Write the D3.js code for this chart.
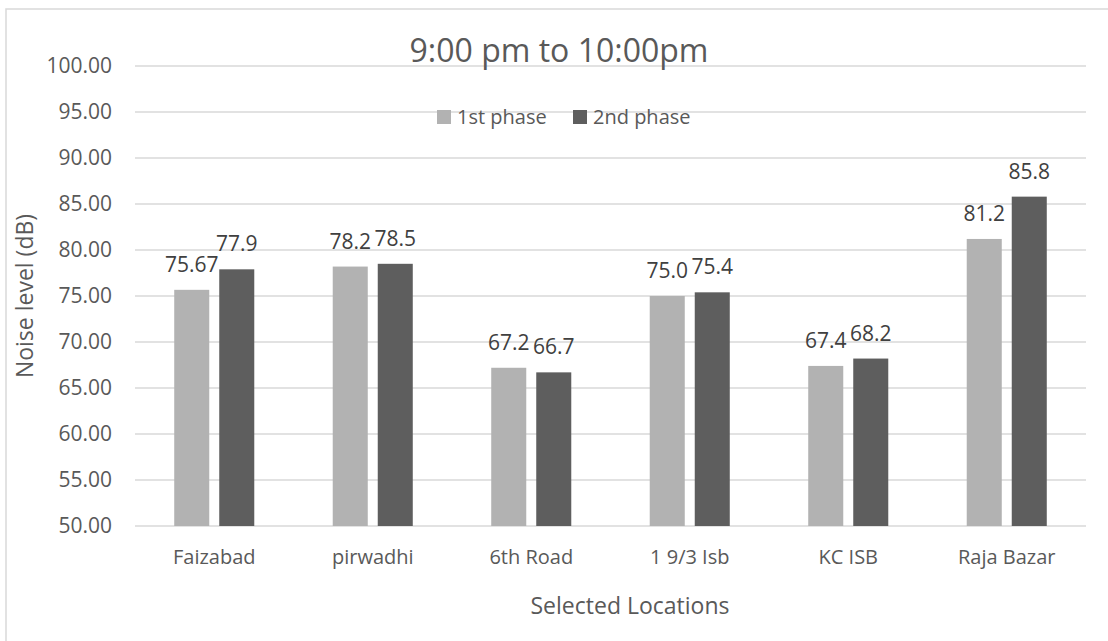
<!DOCTYPE html>
<html>
<head>
<meta charset="utf-8">
<script src="https://cdn.jsdelivr.net/npm/d3@7"></script>
<style>
  html, body { margin: 0; padding: 0; background: #fff; }
  svg { display: block; font-family: "Open Sans", sans-serif; }
</style>
</head>
<body>
<svg id="chart" width="1108" height="641"></svg>
<script>
const categories = ["Faizabad", "pirwadhi", "6th Road", "1 9/3 Isb", "KC ISB", "Raja Bazar"];
const seriesNames = ["1st phase", "2nd phase"];
const phase1 = [75.67, 78.2, 67.2, 75.0, 67.4, 81.2];
const phase2 = [77.9, 78.5, 66.7, 75.4, 68.2, 85.8];
const phase1Labels = ["75.67", "78.2", "67.2", "75.0", "67.4", "81.2"];
const phase2Labels = ["77.9", "78.5", "66.7", "75.4", "68.2", "85.8"];
const yTicks = [50, 55, 60, 65, 70, 75, 80, 85, 90, 95, 100];
const colors = ["#b2b2b2", "#5e5e5e"];

const svg = d3.select("#chart");
const plotLeft = 135, plotRight = 1086, plotTop = 66, plotBottom = 526;

// chart border
svg.append("rect").attr("x", 6).attr("y", 9).attr("width", 1200).attr("height", 800)
  .attr("fill", "none").attr("stroke", "#d9d9d9").attr("stroke-width", 1.5);

const x = d3.scaleBand().domain(categories).range([plotLeft, plotRight])
  .paddingInner(0.495).paddingOuter(0.2475);
const xs = d3.scaleBand().domain(seriesNames).range([0, x.bandwidth()]).paddingInner(0.222);
const y = d3.scaleLinear().domain([50, 100]).range([plotBottom, plotTop]);

// gridlines
svg.append("g").selectAll("line").data(yTicks).join("line")
  .attr("x1", plotLeft).attr("x2", plotRight)
  .attr("y1", d => y(d)).attr("y2", d => y(d))
  .attr("stroke", "#d9d9d9").attr("stroke-width", 1.3);

// y axis labels
const yAxis = d3.axisLeft(y).tickValues(yTicks).tickFormat(d3.format(".2f")).tickSize(0).tickPadding(23);
const ya = svg.append("g").attr("transform", `translate(${plotLeft},0)`).call(yAxis);
ya.select(".domain").remove();
ya.selectAll("text").attr("font-size", 21).attr("fill", "#595959").attr("font-family", "Open Sans");

// x axis labels
const xAxis = d3.axisBottom(x).tickSize(0).tickPadding(24);
const xa = svg.append("g").attr("transform", `translate(0,${plotBottom})`).call(xAxis);
xa.select(".domain").remove();
xa.selectAll("text").attr("font-size", 20).attr("fill", "#595959").attr("font-family", "Open Sans");

const data = seriesNames.map((s, si) => ({
  name: s,
  values: categories.map((c, i) => ({
    cat: c,
    v: si === 0 ? phase1[i] : phase2[i],
    label: si === 0 ? phase1Labels[i] : phase2Labels[i]
  }))
}));

const groups = svg.append("g").selectAll("g").data(data).join("g")
  .attr("fill", (d, i) => colors[i]);

groups.selectAll("rect").data(d => d.values.map(v => ({...v, s: d.name}))).join("rect")
  .attr("x", d => x(d.cat) + xs(d.s))
  .attr("width", xs.bandwidth())
  .attr("y", d => y(d.v))
  .attr("height", d => y(50) - y(d.v));

svg.append("g").selectAll("g").data(data).join("g")
  .selectAll("text").data(d => d.values.map(v => ({...v, s: d.name}))).join("text")
  .attr("x", d => x(d.cat) + xs(d.s) + xs.bandwidth() / 2)
  .attr("y", d => y(d.v) - 18)
  .attr("text-anchor", "middle")
  .attr("font-size", 21)
  .attr("fill", "#404040")
  .text(d => d.label);

// title
svg.append("text").attr("x", 559).attr("y", 62).attr("text-anchor", "middle")
  .attr("font-size", 32).attr("fill", "#595959").text("9:00 pm to 10:00pm");

// legend
const legendX = [437, 573];
const lg = svg.append("g").selectAll("g").data(seriesNames).join("g")
  .attr("transform", (d, i) => `translate(${legendX[i]},110)`);
lg.append("rect").attr("width", 14).attr("height", 14).attr("fill", (d, i) => colors[i]);
lg.append("text").attr("x", 20).attr("y", 14).attr("font-size", 20).attr("fill", "#595959").text(d => d);

// axis titles
svg.append("text").attr("x", 630).attr("y", 614).attr("text-anchor", "middle")
  .attr("font-size", 23).attr("fill", "#595959").text("Selected Locations");
svg.append("text").attr("transform", "translate(33,296) rotate(-90)").attr("text-anchor", "middle")
  .attr("font-size", 23).attr("fill", "#595959").text("Noise level (dB)");
</script>
</body>
</html>
